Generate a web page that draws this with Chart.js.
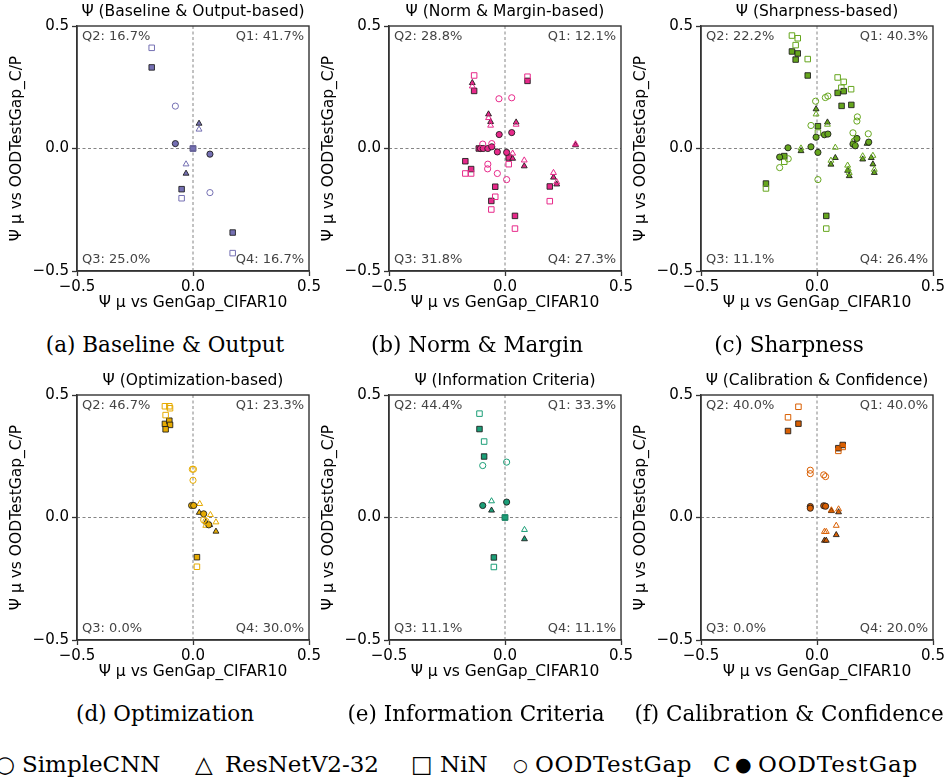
<!DOCTYPE html>
<html><head><meta charset="utf-8">
<script src="https://cdn.jsdelivr.net/npm/chart.js@4.4.0/dist/chart.umd.min.js"></script>
<style>
html,body{margin:0;padding:0;background:#fff;}
#wrap{position:relative;width:947px;height:777px;overflow:hidden;background:#fff;}
canvas{position:absolute;}
.cap{position:absolute;font-family:'DejaVu Serif',serif;font-size:21.5px;color:#000;white-space:nowrap;transform:translateX(-50%);line-height:1;}
.leg{position:absolute;top:753px;font-family:'DejaVu Serif',serif;font-size:23px;color:#000;white-space:nowrap;line-height:1;}
</style></head><body><div id="wrap"></div>
<script>
// ---------- data ----------
const panelTitles = ['Ψ (Baseline & Output-based)','Ψ (Norm & Margin-based)','Ψ (Sharpness-based)','Ψ (Optimization-based)','Ψ (Information Criteria)','Ψ (Calibration & Confidence)'];
const captions = ['(a) Baseline & Output','(b) Norm & Margin','(c) Sharpness','(d) Optimization','(e) Information Criteria','(f) Calibration & Confidence'];
// quadrant labels: Q1, Q2, Q3, Q4
const quadA = ['Q1: 41.7%','Q2: 16.7%','Q3: 25.0%','Q4: 16.7%'];
const quadB = ['Q1: 12.1%','Q2: 28.8%','Q3: 31.8%','Q4: 27.3%'];
const quadC = ['Q1: 40.3%','Q2: 22.2%','Q3: 11.1%','Q4: 26.4%'];
const quadD = ['Q1: 23.3%','Q2: 46.7%','Q3: 0.0%','Q4: 30.0%'];
const quadE = ['Q1: 33.3%','Q2: 44.4%','Q3: 11.1%','Q4: 11.1%'];
const quadF = ['Q1: 40.0%','Q2: 40.0%','Q3: 0.0%','Q4: 20.0%'];
const tickValues = [-0.5, 0, 0.5];
const tickLabels = ['−0.5','0.0','0.5'];
const xAxisTitle = 'Ψ μ vs GenGap_CIFAR10';
const yAxisTitle = 'Ψ μ vs OODTestGap_C/P';
const modelNames = ['SimpleCNN','ResNetV2-32','NiN'];

// [x, y] pairs; *_ood = OODTestGap (hollow), *_c = OODTestGap C (filled)
const a_cnn_ood = [[-0.076,0.173],[0.073,-0.180]];
const a_cnn_c   = [[-0.076,0.020],[0.073,-0.023]];
const a_res_ood = [[0.026,0.078],[-0.030,-0.064]];
const a_res_c   = [[0.026,0.102],[-0.030,-0.102]];
const a_nin_ood = [[-0.178,0.411],[0,0],[-0.049,-0.203],[0.171,-0.427]];
const a_nin_c   = [[-0.178,0.331],[0,0],[-0.049,-0.166],[0.171,-0.343]];

const b_cnn_ood = [[-0.026,0.203],[0.029,0.207],[-0.096,0.018],[-0.057,0.020],[-0.074,-0.064],[-0.075,-0.083],[-0.033,-0.102],[0.007,-0.127]];
const b_cnn_c   = [[-0.025,0.057],[0.029,0.065],[-0.106,0],[-0.094,0],[-0.074,0],[-0.057,0.007],[-0.033,-0.014],[0.007,-0.016]];
const b_res_ood = [[-0.141,0.254],[-0.071,0.125],[-0.062,0.094],[0.048,0.098],[0.033,-0.020],[0.083,-0.048],[0.209,-0.099],[0.223,-0.137],[0.304,0.018]];
const b_res_c   = [[-0.141,0.268],[-0.071,0.140],[-0.062,0.109],[0.048,0.107],[0.033,-0.041],[0.083,-0.072],[0.209,-0.118],[0.223,-0.146],[0.304,0.014]];
const b_nin_ood = [[-0.133,0.298],[0.097,0.293],[-0.171,-0.102],[-0.146,-0.102],[0.016,-0.064],[-0.042,-0.197],[-0.059,-0.249],[0.193,-0.215],[0.043,-0.327]];
const b_nin_c   = [[-0.133,0.235],[0.097,0.276],[-0.171,-0.052],[-0.146,-0.084],[0.016,-0.037],[-0.042,-0.156],[-0.059,-0.214],[0.193,-0.155],[0.043,-0.275],[-0.113,0]];

const c_cnn_ood = [[-0.006,0.193],[0.036,0.208],[0.047,0.214],[0.174,0.129],[0.172,0.112],[-0.026,0.094],[0.155,0.064],[0.221,0.060],[-0.161,-0.078],[-0.124,-0.042],[0.004,-0.127],[0.160,0.030]];
const c_cnn_c   = [[-0.004,0.046],[0.032,0.056],[0.047,0.059],[0.172,0.041],[0.155,0.018],[0.165,0.011],[0.223,0.026],[-0.026,0.007],[0.004,-0.016],[-0.125,0.003],[-0.161,-0.035]];
const c_res_ood = [[-0.004,0.140],[0.045,0.098],[-0.069,0.001],[0.079,0.004],[0.060,-0.049],[0.132,-0.069],[0.139,-0.099],[0.197,-0.031],[0.241,-0.029],[0.247,-0.086],[0.161,0.034],[0.135,-0.085]];
const c_res_c   = [[-0.004,0.161],[0.045,0.107],[-0.069,-0.010],[0.079,-0.038],[0.060,-0.065],[0.132,-0.090],[0.139,-0.112],[0.197,-0.044],[0.234,-0.038],[0.241,-0.064],[0.247,-0.099],[0.216,0.020]];
const c_nin_ood = [[-0.108,0.461],[-0.083,0.450],[-0.092,0.422],[-0.040,0.365],[0.089,0.290],[0.115,0.272],[0.147,0.242],[0.105,0.248],[0.004,0.065],[-0.141,-0.054],[-0.220,-0.163],[0.040,-0.327]];
const c_nin_c   = [[-0.108,0.396],[-0.083,0.388],[-0.092,0.363],[-0.040,0.298],[0.089,0.227],[0.115,0.234],[0.106,0.174],[0.148,0.178],[0.004,0.091],[-0.141,-0.031],[-0.220,-0.143],[0.040,-0.275]];

const d_cnn_ood = [[-0.003,0.197],[0.002,0.197],[0,0.152],[0.046,-0.010],[0.056,-0.016]];
const d_cnn_c   = [[-0.006,0.049],[0.003,0.049],[0.046,0.015],[0.068,-0.030]];
const d_res_ood = [[0.029,0.056],[0.075,0.011],[0.099,-0.019],[0.055,-0.033]];
const d_res_c   = [[0.027,0.020],[0.072,-0.030],[0.099,-0.057],[0.056,-0.019]];
const d_nin_ood = [[-0.121,0.454],[-0.102,0.454],[-0.099,0.446],[-0.118,0.418],[0.017,-0.201]];
const d_nin_c   = [[-0.121,0.382],[-0.102,0.395],[-0.099,0.378],[-0.118,0.360],[0.017,-0.162]];

const e_cnn_ood = [[-0.096,0.212],[0.007,0.226]];
const e_cnn_c   = [[-0.096,0.049],[0.007,0.063]];
const e_res_ood = [[-0.058,0.067],[0.084,-0.050]];
const e_res_c   = [[-0.058,0.029],[0.084,-0.088]];
const e_nin_ood = [[-0.110,0.424],[-0.090,0.310],[0,0],[-0.048,-0.202]];
const e_nin_c   = [[-0.110,0.361],[-0.090,0.249],[0,0],[-0.048,-0.163]];

const f_cnn_ood = [[-0.029,0.193],[-0.029,0.179],[0.029,0.174],[0.037,0.167]];
const f_cnn_c   = [[-0.029,0.045],[-0.029,0.038],[0.029,0.048],[0.037,0.046]];
const f_res_ood = [[0.062,0.030],[0.093,0.034],[0.083,-0.033],[0.032,-0.058],[0.040,-0.058]];
const f_res_c   = [[0.062,0.027],[0.093,0.022],[0.083,-0.071],[0.032,-0.094],[0.040,-0.094]];
const f_nin_ood = [[-0.080,0.452],[-0.125,0.409],[0.092,0.272],[0.111,0.288]];
const f_nin_c   = [[-0.080,0.383],[-0.125,0.353],[0.092,0.283],[0.111,0.296]];

// ---------- layout / style ----------
const CW = 324, CH = 321;
const panels = [
  {quad:quadA, color:'#7570b3', sets:[a_cnn_ood,a_cnn_c,a_res_ood,a_res_c,a_nin_ood,a_nin_c], left:0,   top:0,   capX:165, capY:334},
  {quad:quadB, color:'#e7298a', sets:[b_cnn_ood,b_cnn_c,b_res_ood,b_res_c,b_nin_ood,b_nin_c], left:312, top:0,   capX:477, capY:334},
  {quad:quadC, color:'#66a61e', sets:[c_cnn_ood,c_cnn_c,c_res_ood,c_res_c,c_nin_ood,c_nin_c], left:624, top:0,   capX:789, capY:334},
  {quad:quadD, color:'#e6ab02', sets:[d_cnn_ood,d_cnn_c,d_res_ood,d_res_c,d_nin_ood,d_nin_c], left:0,   top:369, capX:165, capY:703},
  {quad:quadE, color:'#1b9e77', sets:[e_cnn_ood,e_cnn_c,e_res_ood,e_res_c,e_nin_ood,e_nin_c], left:312, top:369, capX:476, capY:703},
  {quad:quadF, color:'#d95f02', sets:[f_cnn_ood,f_cnn_c,f_res_ood,f_res_c,f_nin_ood,f_nin_c], left:624, top:369, capX:789, capY:703}
];
const styles = ['circle','circle','triangle','triangle','rect','rect'];
const radii  = [3.1,3.1,3.4,3.4,3.9,3.9];

Chart.defaults.font.family = "'DejaVu Sans', sans-serif";
Chart.defaults.color = '#000';

const framePlugin = {
  id:'frame',
  beforeDatasetsDraw(chart){
    const {ctx, chartArea:a, scales} = chart;
    const x0 = scales.x.getPixelForValue(0), y0 = scales.y.getPixelForValue(0);
    ctx.save();
    ctx.strokeStyle = '#777'; ctx.lineWidth = 0.9; ctx.setLineDash([3,2.5]);
    ctx.beginPath(); ctx.moveTo(x0, a.top); ctx.lineTo(x0, a.bottom);
    ctx.moveTo(a.left, y0); ctx.lineTo(a.right, y0); ctx.stroke();
    ctx.setLineDash([]);
    const opts = chart.options.plugins.frame;
    const q = opts.quad;
    ctx.fillStyle = '#444'; ctx.font = "13px 'DejaVu Sans'"; ctx.textBaseline='middle';
    ctx.textAlign='left';  ctx.fillText(q[1], a.left+5, a.top+11); ctx.fillText(q[2], a.left+5, a.bottom-11);
    ctx.textAlign='right'; ctx.fillText(q[0], a.right-5, a.top+11); ctx.fillText(q[3], a.right-5, a.bottom-11);
    // panel title centred over the plot area
    ctx.fillStyle = '#000'; ctx.font = "15.5px 'DejaVu Sans'"; ctx.textAlign='center'; ctx.textBaseline='middle';
    ctx.fillText(opts.title, (a.left + a.right)/2, a.top - 14);
    ctx.restore();
  },
  afterDraw(chart){
    const {ctx, chartArea:a} = chart;
    ctx.save(); ctx.strokeStyle='#333'; ctx.lineWidth=1.4;
    ctx.strokeRect(a.left, a.top, a.right-a.left, a.bottom-a.top);
    ctx.restore();
  }
};

const wrap = document.getElementById('wrap');
panels.forEach((p, i) => {
  const cv = document.createElement('canvas');
  cv.width = CW; cv.height = CH;
  cv.style.left = p.left + 'px'; cv.style.top = p.top + 'px';
  cv.style.width = CW + 'px'; cv.style.height = CH + 'px';
  wrap.appendChild(cv);
  const datasets = p.sets.map((s, k) => {
    const filled = k % 2 === 1;
    return {
      label: modelNames[Math.floor(k/2)] + (filled ? ' OODTestGap C' : ' OODTestGap'),
      data: s.map(v => ({x:v[0], y:v[1]})),
      pointStyle: styles[k], pointRadius: radii[k], pointHoverRadius: radii[k],
      backgroundColor: filled ? p.color : 'rgba(0,0,0,0)',
      borderColor: filled ? 'rgba(25,25,25,0.85)' : p.color,
      borderWidth: 1
    };
  });
  const tickCb = v => { const j = tickValues.indexOf(Math.round(v*10)/10); return j >= 0 ? tickLabels[j] : ''; };
  new Chart(cv, {
    type:'scatter',
    data:{datasets},
    options:{
      responsive:false, animation:false, devicePixelRatio:1,
      layout:{padding:{left:0, right:15, top:26, bottom:0}},
      plugins:{
        legend:{display:false}, tooltip:{enabled:false}, title:{display:false},
        frame:{quad:p.quad, title:panelTitles[i]}
      },
      scales:{
        x:{type:'linear', min:-0.5, max:0.5,
           afterBuildTicks: s => { s.ticks = tickValues.map(v => ({value:v})); },
           ticks:{callback:tickCb, font:{size:15}, color:'#000', padding:2, maxRotation:0, autoSkip:false},
           grid:{drawOnChartArea:false, drawTicks:true, tickLength:5, tickColor:'#333', tickWidth:1.3},
           border:{display:true, color:'#333', width:1.4},
           title:{display:true, text:xAxisTitle, color:'#000', font:{size:15.5}, padding:{top:0, bottom:8.5}},
           afterFit: s => { s.height = 50; s.paddingLeft = 0; s.paddingRight = 0; }
        },
        y:{type:'linear', min:-0.5, max:0.5,
           afterBuildTicks: s => { s.ticks = tickValues.map(v => ({value:v})); },
           ticks:{callback:tickCb, font:{size:15}, color:'#000', padding:3, autoSkip:false},
           grid:{drawOnChartArea:false, drawTicks:true, tickLength:5, tickColor:'#333', tickWidth:1.3},
           border:{display:true, color:'#333', width:1.4},
           title:{display:true, text:yAxisTitle, color:'#000', font:{size:15.5}, padding:{top:8, bottom:0}},
           afterFit: s => { s.width = 77; s.paddingTop = 0; s.paddingBottom = 0; }
        }
      }
    },
    plugins:[framePlugin]
  });
  const cap = document.createElement('div');
  cap.className = 'cap'; cap.textContent = captions[i];
  cap.style.left = p.capX + 'px'; cap.style.top = p.capY + 'px';
  wrap.appendChild(cap);
});

// bottom legend line
const legendItems = [
  ['○', -5, 0], ['SimpleCNN', 22, 0], ['△', 195, 0], ['ResNetV2-32', 225, 0], ['□', 411, 0], ['NiN', 440, 0],
  ['○', 513, 0], ['OODTestGap', 535, 0.6], ['C', 713, 0], ['●', 735, 0], ['OODTestGap', 758, 0.9]
];
legendItems.forEach(([t, x, ls]) => {
  const s = document.createElement('span');
  s.className = 'leg'; s.textContent = t; s.style.left = x + 'px';
  if (ls) s.style.letterSpacing = ls + 'px';
  if (t === '○' && x > 0) { s.style.fontSize = '17px'; s.style.top = '757px'; }
  if (t === '●') { s.style.fontSize = '19px'; s.style.top = '755px'; }
  wrap.appendChild(s);
});
</script></body></html>
